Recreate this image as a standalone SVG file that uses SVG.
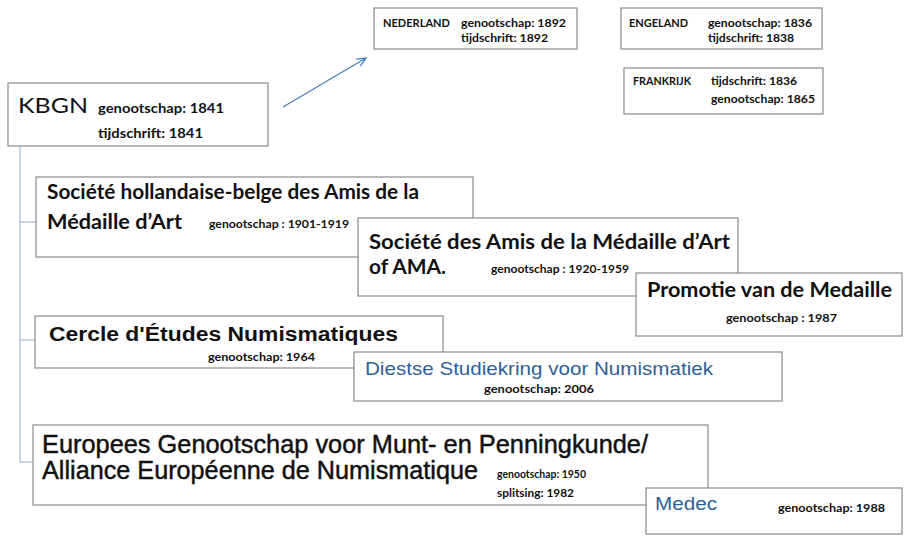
<svg xmlns="http://www.w3.org/2000/svg" width="904" height="536" viewBox="0 0 904 536">
<style>
.box{fill:#ffffff;stroke:#8a8a8a;stroke-width:1.2}
.cal{font-family:Lato,"Open Sans","Liberation Sans",sans-serif;font-weight:bold;fill:#111}
.calr{font-family:Lato,"Open Sans","Liberation Sans",sans-serif;font-weight:normal;fill:#111}
.ari{font-family:"Liberation Sans",Arial,sans-serif;fill:#111}
.heavy{stroke:#111;stroke-width:0.45}
.blue{font-family:"Liberation Sans",Arial,sans-serif;fill:#2f5f96}
.conn{stroke:#a9c0dc;stroke-width:1.3;fill:none}
.arrow{stroke:#4a7ebb;stroke-width:1.3;fill:none}
</style>
<defs>
<marker id="ah" markerWidth="12" markerHeight="12" refX="10" refY="5" orient="auto" markerUnits="userSpaceOnUse" viewBox="0 0 12 10">
<path d="M1,1 L10,5 L1,9" fill="none" stroke="#4a7ebb" stroke-width="1.3"/>
</marker>
</defs>

<g id="kbgn">
<rect class="box" x="8" y="83" width="260" height="63"/>
<text class="calr" x="18" y="113" font-size="22" textLength="70" lengthAdjust="spacingAndGlyphs">KBGN</text>
<text class="cal" x="98" y="113" font-size="14" textLength="126" lengthAdjust="spacingAndGlyphs">genootschap: 1841</text>
<text class="cal" x="98" y="138" font-size="14" textLength="105" lengthAdjust="spacingAndGlyphs">tijdschrift: 1841</text>
</g>

<g id="nederland">
<rect class="box" x="374" y="8" width="203" height="41"/>
<text class="cal" x="383" y="27" font-size="12" textLength="67" lengthAdjust="spacingAndGlyphs">NEDERLAND</text>
<text class="cal" x="461" y="27" font-size="12" textLength="105" lengthAdjust="spacingAndGlyphs">genootschap: 1892</text>
<text class="cal" x="461" y="42" font-size="12" textLength="87" lengthAdjust="spacingAndGlyphs">tijdschrift: 1892</text>
</g>

<g id="engeland">
<rect class="box" x="621" y="8" width="201" height="41"/>
<text class="cal" x="629" y="27" font-size="12" textLength="59" lengthAdjust="spacingAndGlyphs">ENGELAND</text>
<text class="cal" x="708" y="27" font-size="12" textLength="104" lengthAdjust="spacingAndGlyphs">genootschap: 1836</text>
<text class="cal" x="708" y="42" font-size="12" textLength="86" lengthAdjust="spacingAndGlyphs">tijdschrift: 1838</text>
</g>

<g id="frankrijk">
<rect class="box" x="624" y="68" width="199" height="46"/>
<text class="cal" x="633" y="85" font-size="12" textLength="58" lengthAdjust="spacingAndGlyphs">FRANKRIJK</text>
<text class="cal" x="711" y="85" font-size="12" textLength="86" lengthAdjust="spacingAndGlyphs">tijdschrift: 1836</text>
<text class="cal" x="711" y="103" font-size="12" textLength="104" lengthAdjust="spacingAndGlyphs">genootschap: 1865</text>
</g>

<g id="connectors">
<line class="conn" x1="20" y1="146" x2="20" y2="462"/>
<line class="conn" x1="20" y1="222" x2="36" y2="222"/>
<line class="conn" x1="20" y1="340" x2="35" y2="340"/>
<line class="conn" x1="20" y1="462" x2="33" y2="462"/>
<line class="arrow" x1="283" y1="107" x2="366" y2="58" marker-end="url(#ah)"/>
</g>

<g id="shbama">
<rect class="box" x="36" y="177" width="437" height="80"/>
<text class="cal" x="47" y="199" font-size="20" textLength="372" lengthAdjust="spacingAndGlyphs">Société hollandaise-belge des Amis de la</text>
<text class="cal" x="47" y="229" font-size="20" textLength="135" lengthAdjust="spacingAndGlyphs">Médaille d’Art</text>
<text class="cal" x="209" y="228" font-size="11" textLength="140" lengthAdjust="spacingAndGlyphs">genootschap : 1901-1919</text>
</g>

<g id="ama">
<rect class="box" x="358" y="218" width="380" height="78"/>
<text class="cal" x="369" y="249" font-size="20" textLength="361" lengthAdjust="spacingAndGlyphs">Société des Amis de la Médaille d’Art</text>
<text class="cal" x="369" y="274" font-size="20" textLength="77" lengthAdjust="spacingAndGlyphs">of AMA.</text>
<text class="cal" x="491" y="273" font-size="11" textLength="138" lengthAdjust="spacingAndGlyphs">genootschap : 1920-1959</text>
</g>

<g id="promotie">
<rect class="box" x="636" y="273" width="266" height="63"/>
<text class="cal" x="647" y="297" font-size="20" textLength="245" lengthAdjust="spacingAndGlyphs">Promotie van de Medaille</text>
<text class="cal" x="726" y="322" font-size="12" textLength="111" lengthAdjust="spacingAndGlyphs">genootschap : 1987</text>
</g>

<g id="cercle">
<rect class="box" x="35" y="316" width="408" height="52"/>
<text class="ari" x="49" y="341" font-size="20" font-weight="bold" textLength="349" lengthAdjust="spacingAndGlyphs">Cercle d'Études Numismatiques</text>
<text class="cal" x="208" y="361" font-size="12" textLength="107" lengthAdjust="spacingAndGlyphs">genootschap: 1964</text>
</g>

<g id="diestse">
<rect class="box" x="354" y="352" width="428" height="49"/>
<text class="blue" x="365" y="375" font-size="19" textLength="348" lengthAdjust="spacingAndGlyphs">Diestse Studiekring voor Numismatiek</text>
<text class="cal" x="484" y="393" font-size="12" textLength="110" lengthAdjust="spacingAndGlyphs">genootschap: 2006</text>
</g>

<g id="europees">
<rect class="box" x="33" y="425" width="675" height="80"/>
<text class="ari heavy" x="42" y="453" font-size="25" textLength="606" lengthAdjust="spacingAndGlyphs">Europees Genootschap voor Munt- en Penningkunde/</text>
<text class="ari heavy" x="42" y="479" font-size="25" textLength="436" lengthAdjust="spacingAndGlyphs">Alliance Européenne de Numismatique</text>
<text class="cal" x="497" y="478" font-size="11" textLength="89" lengthAdjust="spacingAndGlyphs">genootschap: 1950</text>
<text class="cal" x="497" y="497" font-size="11" textLength="77" lengthAdjust="spacingAndGlyphs">splitsing: 1982</text>
</g>

<g id="medec">
<rect class="box" x="646" y="488" width="256" height="46"/>
<text class="blue" x="655" y="510" font-size="18" textLength="62" lengthAdjust="spacingAndGlyphs">Medec</text>
<text class="cal" x="778" y="512" font-size="12" textLength="107" lengthAdjust="spacingAndGlyphs">genootschap: 1988</text>
</g>
</svg>
